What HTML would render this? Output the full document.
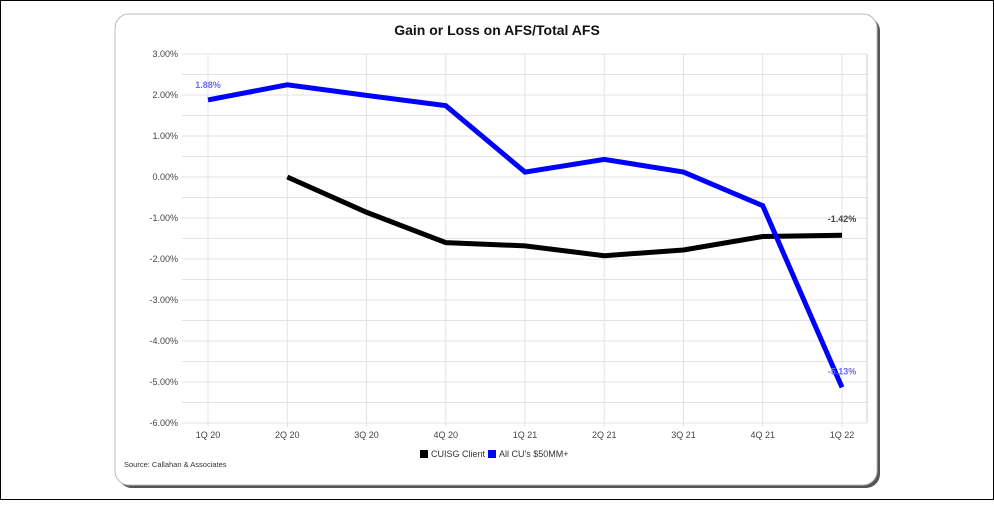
<!DOCTYPE html>
<html><head><meta charset="utf-8"><style>
body{margin:0;width:994px;height:500px;background:#fff;font-family:"Liberation Sans",sans-serif;overflow:hidden}
</style></head><body>
<svg width="994" height="500">
<rect x="0.5" y="0.5" width="993" height="499" fill="#fff" stroke="#000"/>
<rect x="118" y="17" width="762" height="471" rx="14" fill="#555"/>
<rect x="115" y="14" width="762" height="471" rx="14" fill="#fff" stroke="#bbb"/>
<text x="497" y="35" text-anchor="middle" font-size="14" font-weight="bold" fill="#111">Gain or Loss on AFS/Total AFS</text>
<g id="grid"></g><g id="lines"></g><g id="labels"></g>
<g>
<rect x="420" y="450" width="8" height="8" fill="#000"/>
<text x="431" y="457" font-size="9" fill="#333">CUISG Client</text>
<rect x="488" y="450" width="8" height="8" fill="#0000ff"/>
<text x="499" y="457" font-size="9" fill="#333">All CU's $50MM+</text>
</g>
<text x="124" y="467" font-size="7.5" fill="#333">Source: Callahan &amp; Associates</text>
</svg>
<script>
const categories=["1Q 20","2Q 20","3Q 20","4Q 20","1Q 21","2Q 21","3Q 21","4Q 21","1Q 22"];
const allCUs=[1.88,2.25,1.99,1.74,0.12,0.43,0.12,-0.7,-5.13];
const cuisg=[null,0,-0.86,-1.6,-1.68,-1.92,-1.78,-1.45,-1.42];
const yTicks=[3,2,1,0,-1,-2,-3,-4,-5,-6];
const NS="http://www.w3.org/2000/svg";
const x=i=>208+i*79.25;
const y=v=>177-v*41;
const L=182,R=867;
function mk(t,a,p){const e=document.createElementNS(NS,t);for(const k in a)e.setAttribute(k,a[k]);p.appendChild(e);return e;}
const g=document.getElementById('grid');
for(let v=3;v>=-6;v-=0.5){const l=mk('line',{x1:L,x2:R,y1:y(v),y2:y(v),stroke:'#e3e3e3','stroke-width':1},g);

}
categories.forEach((c,i)=>{const l=mk('line',{x1:x(i),x2:x(i),y1:y(3),y2:y(-6)+4,stroke:'#e3e3e3'},g);


const t=mk('text',{x:x(i),y:438,'text-anchor':'middle','font-size':9,fill:'#444'},g);t.textContent=c;

});
const ra=mk('line',{x1:R,x2:R,y1:y(3),y2:y(-6),stroke:'#ccc'},g);


yTicks.forEach(v=>{const t=mk('text',{x:178,y:y(v)+3,'text-anchor':'end','font-size':9,fill:'#444'},g);t.textContent=v.toFixed(2)+'%';

});
const lg=document.getElementById('lines');
function path(arr,col,name){let d='';arr.forEach((v,i)=>{if(v===null)return;d+=(d?'L':'M')+x(i)+','+y(v);});
const p=mk('path',{d:d,fill:'none',stroke:col,'stroke-width':5,'stroke-linejoin':'miter'},lg);

}
path(cuisg,'#000','line-cuisg-client');
path(allCUs,'#0000ff','line-all-cus');
const lb=document.getElementById('labels');
function lab(txt,xx,yy,col,name){const t=mk('text',{x:xx,y:yy,'text-anchor':'middle','font-size':9,'font-weight':'bold',fill:col},lb);t.textContent=txt;

}
lab(allCUs[0].toFixed(2)+'%',x(0),y(allCUs[0])-12,'#6a6aff','label-all-cus-first');
lab(allCUs[8].toFixed(2)+'%',x(8),y(allCUs[8])-13,'#6a6aff','label-all-cus-last');
lab(cuisg[8].toFixed(2)+'%',x(8),y(cuisg[8])-13,'#444','label-cuisg-last');
</script>
</body></html>
